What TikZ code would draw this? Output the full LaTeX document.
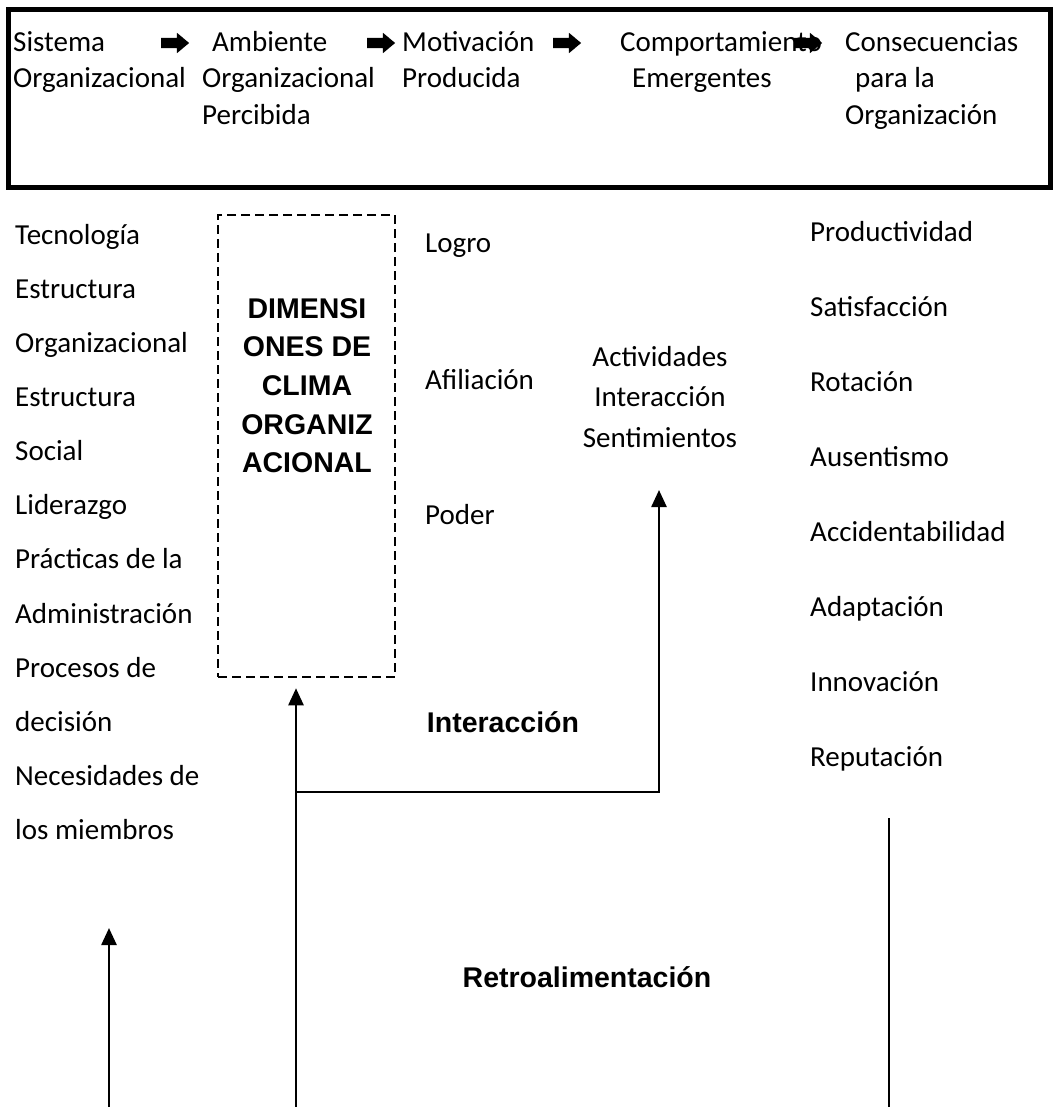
\documentclass[tikz,border=0pt]{standalone}
\usepackage{fontspec}
\setmainfont{Carlito}
\newfontfamily\arialfont{Liberation Sans}
\usetikzlibrary{arrows.meta,shapes.arrows}

\tikzset{
  texto/.style={inner sep=0pt, anchor=base west, font=\fontsize{29}{36.5}\selectfont},
  negrita/.style={inner sep=0pt, anchor=base, font=\arialfont\bfseries\fontsize{28.5}{38.7}\selectfont},
  flechabloque/.style={single arrow, fill=black, inner xsep=0pt, inner ysep=5pt, minimum height=28pt,
                       single arrow head extend=5pt, single arrow tip angle=80},
  linea/.style={line width=2.5pt},
  flecha/.style={line width=2.5pt, -{Triangle[length=17pt,width=15pt]}}
}

\begin{document}
\begin{tikzpicture}[x=1pt,y=-1pt]
  \useasboundingbox (0,0) rectangle (1054,1107);
  % cadena de arriba
  \node[draw, line width=5pt, minimum width=1042pt, minimum height=178pt, inner sep=0pt] (marco) at (529,99) {};
  \node[texto, align=left]  (sis)  at (13,88)    {Sistema\\Organizacional};
  \node[texto, align=left]  (amb)  at (202,124.5) {\hspace{10pt}Ambiente\\Organizacional\\Percibida};
  \node[texto, align=left]  (mot)  at (402,88)   {Motivación\\Producida};
  \node[texto, align=left]  (com)  at (620,88)   {Comportamiento\\\hspace{12pt}Emergentes};
  \node[texto, align=left]  (con)  at (845,124.5) {Consecuencias\\\hspace{10pt}para la\\Organización};
  \node[flechabloque]       (f1)   at (172,43)   {};
  \node[flechabloque]       (f2)   at (378,43)   {};
  \node[flechabloque]       (f3)   at (564,43)   {};
  \node[flechabloque]       (f4)   at (805,43)   {};
  % columnas
  \foreach \t [count=\i from 0] in {Tecnología, Estructura, Organizacional, Estructura, Social,
      Liderazgo, Prácticas de la, Administración, Procesos de, decisión, Necesidades de, los miembros}
    \node[texto] (izq\i) at (15,244.3+54.1*\i) {\t};
  \node[draw, linea, dash pattern=on 9pt off 5pt, minimum width=177pt, minimum height=462pt,
        inner sep=0pt] (dim) at (306.5,446) {};
  \node[negrita, align=center] (dimtxt) at (307,472.8) {DIMENSI\\ONES DE\\CLIMA\\ORGANIZ\\ACIONAL};
  \node[texto]              (logro) at (425,252)   {Logro};
  \node[texto]              (afil)  at (425,389)   {Afiliación};
  \node[texto]              (poder) at (425,524.5) {Poder};
  \node[texto, anchor=base, align=center, font=\fontsize{29}{40.5}\selectfont]
                            (act)   at (660,447)   {Actividades\\Interacción\\Sentimientos};
  \foreach \t [count=\i from 0] in {Productividad, Satisfacción, Rotación, Ausentismo,
      Accidentabilidad, Adaptación, Innovación, Reputación}
    \node[texto] (der\i) at (810,241+75*\i) {\t};
  \node[negrita]            (inter) at (503,732)   {Interacción};
  \node[negrita]            (retro) at (587,987)   {Retroalimentación};
  % lazos de abajo
  \coordinate (b1)     at (109,1107);
  \coordinate (p1)     at (109,928);
  \coordinate (b2)     at (296,1107);
  \coordinate (c2)     at (296,792);
  \coordinate (act-in) at (659,490);
  \coordinate (b3)     at (889,1107);
  \coordinate (t3)     at (889,818);
  \draw[flecha] (b1) -- (p1);
  \draw[flecha, shorten >=10pt] (b2) -- (b2 |- dim.south);
  \draw[flecha] (c2) -| (act-in);
  \draw[linea] (t3) -- (b3);
\end{tikzpicture}
\end{document}
